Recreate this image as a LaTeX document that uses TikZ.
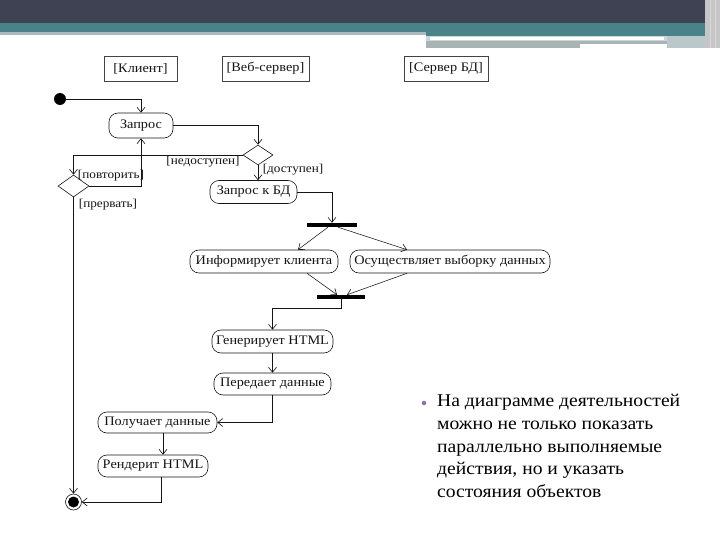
\documentclass[tikz,border=0pt]{standalone}
\usepackage{fontspec}
\setmainfont{Liberation Serif}
\newfontfamily\diagfont[FakeStretch=1.1]{Liberation Serif}
\newfontfamily\notefont[FakeStretch=1.09]{Liberation Serif}
\usetikzlibrary{arrows.meta,positioning,shapes.geometric,calc}
\definecolor{ink}{RGB}{20,20,20}
\definecolor{slate}{RGB}{62,66,82}
\definecolor{teal}{RGB}{74,130,137}
\definecolor{haze}{RGB}{170,186,190}
\definecolor{steel}{RGB}{168,180,180}
\definecolor{lilac}{RGB}{140,110,170}

\begin{document}
\begin{tikzpicture}[
      x=1pt,y=-1pt,
      every node/.style={font=\diagfont\fontsize{13}{15}\selectfont,text=ink},
      lane/.style={draw=ink!80,line width=0.7pt,inner sep=0pt},
      act/.style={draw=ink,line width=0.6pt,rounded corners=9pt,
        inner sep=0pt,minimum height=23pt},
      dec/.style={draw=ink,line width=0.6pt,diamond,inner sep=0pt},
      sync/.style={fill=black,inner sep=0pt,minimum height=4pt},
      guard/.style={font=\diagfont\fontsize{12}{14}\selectfont},
      flow/.style={draw=ink,line width=0.55pt,
        -{Straight Barb[length=5pt,width=8pt,line width=0.6pt]}}
    ]
      \useasboundingbox (0,0) rectangle (720,540);

      % header bands
      \fill[slate] (0,0) rectangle (705,23);
      \fill[teal] (0,23) rectangle (705,32);
      \fill[haze] (0,32) rectangle (426,35);
      \fill[teal] (426,32) rectangle (705,36);
      \fill[haze!60] (426,36) rectangle (667,41);
      \fill[white] (430,37) rectangle (664,40);
      \fill[steel] (426,41) rectangle (667,44);
      \fill[steel] (426,44) rectangle (580,48);
      \fill[haze!80] (667,36) rectangle (705,48);
      \fill[gray!45] (705,0) rectangle (720,48);
      \draw[white!70!gray] (710,0) -- (710,48) (715,0) -- (715,48);

      % swimlane headers
      \node[lane,minimum width=73pt,minimum height=25pt] (client) at (140.5,68.5) {[Клиент]};
      \node[lane,minimum width=87pt,minimum height=25pt] (web) at (265.5,68.5) {[Веб-сервер]};
      \node[lane,minimum width=84pt,minimum height=25pt] (db) at (446,68.5) {[Сервер БД]};

      % states
      \node[circle,fill=black,inner sep=0pt,minimum size=12pt] (start) at (60,99) {};
      \node[act,minimum width=64pt,minimum height=25pt] (zapros) at (141,125.5) {Запрос};
      \node[dec,minimum width=30pt,minimum height=20pt] (dec1) at (258,155) {};
      \node[dec,minimum width=31pt,minimum height=22pt] (dec2) at (73.5,186) {};
      \node[act,minimum width=87pt] (zapbd) at (253.5,192) {Запрос к БД};
      \node[sync,minimum width=50pt] (fork) at (332,225) {};
      \node[act,minimum width=148pt] (inform) at (264,261.5) {Информирует клиента};
      \node[act,minimum width=200pt] (select) at (450,261.5) {Осуществляет выборку данных};
      \node[sync,minimum width=48pt] (join) at (341,297) {};
      \node[act,minimum width=121pt] (gen) at (272.5,341.5) {Генерирует HTML};
      \node[act,minimum width=117pt,minimum height=22pt] (send) at (272.5,384) {Передает данные};
      \node[act,minimum width=119pt,minimum height=21pt] (recv) at (157.5,422.5) {Получает данные};
      \node[act,minimum width=110pt,minimum height=22pt] (render) at (153,466) {Рендерит HTML};
      \node[circle,draw=ink,line width=0.6pt,inner sep=0pt,minimum size=16pt] (final) at (73.5,502) {};
      \fill[black] (final) circle (5.5pt);

      % guards
      \node[guard] (gnot) at (203,162) {[недоступен]};
      \node[guard] (gok) at (293,170) {[доступен]};
      \node[guard] (gretry) at (111,176) {[повторить]};
      \node[guard] (gabort) at (108,205) {[прервать]};

      % flows
      \draw[flow] (start) -| (zapros);
      \draw[flow] (zapros) -| (dec1);
      \draw[flow] (dec1) -| (dec2);
      \draw[flow] (dec2) -| (zapros);
      \draw[flow] (dec2) -- (final);
      \draw[flow] (dec1.south) -- (dec1.south |- zapbd.north);
      \draw[flow] (zapbd) -| (fork);
      \draw[flow] ([xshift=-4pt]fork.south) -- ([xshift=34pt]inform.north);
      \draw[flow] ([xshift=6pt]fork.south) -- ([xshift=-43pt]select.north);
      \draw[flow] ([xshift=43pt]inform.south) -- ([xshift=-4pt]join.north);
      \draw[flow] ([xshift=-43pt]select.south) -- ([xshift=6pt]join.north);
      \draw[flow] (join.south) -- ++(0,9) -| (gen.north);
      \draw[flow] (gen) -- (send);
      \draw[flow] (send) |- (recv);
      \coordinate (rr) at ([xshift=5.5pt]recv.south);
      \draw[flow] (rr) -- (rr |- render.north);
      \draw[flow] ([xshift=8pt]render.south) |- (final);

      % note
      \node[circle,fill=lilac,inner sep=0pt,minimum size=4.5pt] (dot) at (424,403) {};
      \node[anchor=north west,align=left,inner sep=0pt,
        font=\notefont\fontsize{18}{22.75}\selectfont,text=black]
        (note) at (437,394)
        {На диаграмме деятельностей\\можно не только показать\\параллельно выполняемые\\действия, но и указать\\состояния объектов};
    \end{tikzpicture}
\end{document}
